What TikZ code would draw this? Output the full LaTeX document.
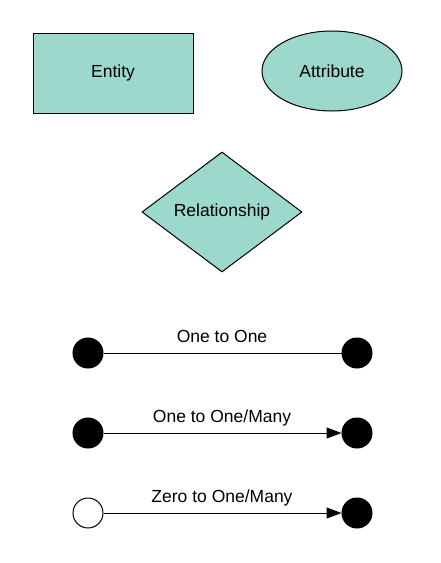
\documentclass[tikz,border=0pt]{standalone}
\usepackage{fontspec}
\setmainfont{Liberation Sans}
\usetikzlibrary{shapes.geometric,arrows.meta}
\definecolor{teal}{HTML}{9DD8CC}
\begin{document}
\begin{tikzpicture}[x=1pt,y=-1pt,
  every node/.style={font=\fontsize{17.5}{20}\selectfont},
  shapebox/.style={draw=black,line width=1pt,fill=teal,inner sep=0pt},
  dot/.style={circle,draw=black,line width=1pt,fill=black,minimum size=30pt,inner sep=0pt},
  hollow/.style={dot,fill=white},
  link/.style={draw=black,line width=1pt},
  lbl/.style={inner sep=0pt,anchor=base}]
\useasboundingbox (0,0) rectangle (441,563);
\node[shapebox,rectangle,minimum width=160pt,minimum height=80pt] (entity) at (113,73) {Entity};
\node[shapebox,ellipse,minimum width=140pt,minimum height=80pt] (attr) at (332,71) {Attribute};
\node[shapebox,diamond,minimum width=160pt,minimum height=120pt,aspect=1.333] (rel) at (222,212) {Relationship};

\node[dot] (a1) at (88,353) {};
\node[dot] (b1) at (357,353) {};
\draw[link] (a1) -- (b1);
\node[lbl] (l1) at (222,342) {One to One};

\node[dot] (a2) at (88,433) {};
\node[dot] (b2) at (357,433) {};
\draw[link,-{Triangle[length=15pt,width=11pt]}] (a2) -- (b2);
\node[lbl] (l2) at (222,422) {One to One/Many};

\node[hollow] (a3) at (88,513) {};
\node[dot] (b3) at (357,513) {};
\draw[link,-{Triangle[length=15pt,width=11pt]}] (a3) -- (b3);
\node[lbl] (l3) at (222,502) {Zero to One/Many};
\end{tikzpicture}
\end{document}
